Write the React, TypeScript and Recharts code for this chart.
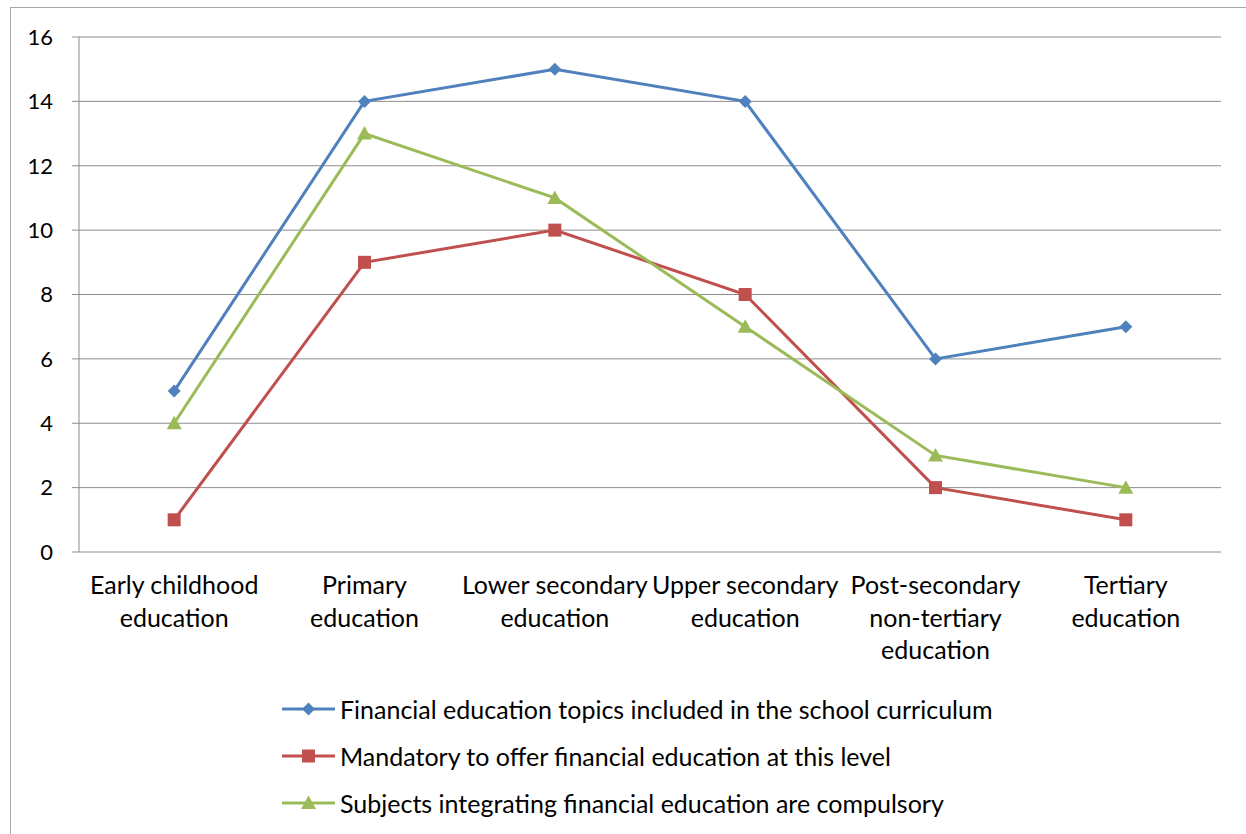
import React from "react";
import { LineChart, Line, XAxis, YAxis, CartesianGrid, Legend } from "recharts";

const categories = [
  "Early childhood education",
  "Primary education",
  "Lower secondary education",
  "Upper secondary education",
  "Post-secondary non-tertiary education",
  "Tertiary education",
];
const categoryLines = [
  ["Early childhood", "education"],
  ["Primary", "education"],
  ["Lower secondary", "education"],
  ["Upper secondary", "education"],
  ["Post-secondary", "non-tertiary", "education"],
  ["Tertiary", "education"],
];
const curriculum = [5, 14, 15, 14, 6, 7];
const mandatory = [1, 9, 10, 8, 2, 1];
const compulsory = [4, 13, 11, 7, 3, 2];
const yTicks = [0, 2, 4, 6, 8, 10, 12, 14, 16];
const boundaryTicks = [0, 1, 2, 3, 4, 5, 6];
const centerTicks = [0.5, 1.5, 2.5, 3.5, 4.5, 5.5];

const seriesNames = [
  "Financial education topics included in the school curriculum",
  "Mandatory to offer financial education at this level",
  "Subjects integrating financial education are compulsory",
];
const BLUE = "#4F81BD";
const RED = "#C0504D";
const GREEN = "#9BBB59";
const GRID = "#8c8c8c";
const FONT = "Lato, 'Open Sans', sans-serif";

const data = categories.map((c, i) => ({
  pos: i + 0.5,
  name: c,
  curriculum: curriculum[i],
  mandatory: mandatory[i],
  compulsory: compulsory[i],
}));

const Marker = ({ kind, cx, cy, color }: any) => {
  if (cx == null || cy == null) return null;
  if (kind === "diamond") {
    const r = 6.5;
    return <polygon points={`${cx},${cy - r} ${cx + r},${cy} ${cx},${cy + r} ${cx - r},${cy}`} fill={color} />;
  }
  if (kind === "square") {
    const r = 6.5;
    return <rect x={cx - r} y={cy - r} width={2 * r} height={2 * r} fill={color} />;
  }
  const r = 7.5;
  return <polygon points={`${cx},${cy - r} ${cx + r},${cy + r * 0.8} ${cx - r},${cy + r * 0.8}`} fill={color} />;
};

const makeDot = (kind: string, color: string) => (props: any) => (
  <Marker key={`${kind}-${props.index}`} kind={kind} cx={props.cx} cy={props.cy} color={color} />
);

const CategoryTick = (props: any) => {
  const { x, y, payload } = props;
  const idx = Math.floor(payload.value);
  const lines = categoryLines[idx] || [];
  return (
    <g>
      {lines.map((l, i) => (
        <text
          key={i}
          x={x}
          y={y + 42 + i * 32.5}
          textAnchor="middle"
          fontSize={25}
          fontFamily={FONT}
          fill="#000"
        >
          {l}
        </text>
      ))}
    </g>
  );
};

const legendItems = [
  { name: seriesNames[0], color: BLUE, kind: "diamond" },
  { name: seriesNames[1], color: RED, kind: "square" },
  { name: seriesNames[2], color: GREEN, kind: "triangle" },
];

const LegendContent = () => (
  <div style={{ fontFamily: FONT, fontSize: 25, color: "#000" }}>
    {legendItems.map((it) => (
      <div key={it.name} style={{ display: "flex", alignItems: "center", height: 47 }}>
        <svg width={58} height={20} style={{ flex: "none" }}>
          <line x1={0} y1={10} x2={53} y2={10} stroke={it.color} strokeWidth={3} />
          <Marker kind={it.kind} cx={26.5} cy={10} color={it.color} />
        </svg>
        <span style={{ whiteSpace: "nowrap" }}>{it.name}</span>
      </div>
    ))}
  </div>
);

export default function App() {
  return (
    <div style={{ position: "absolute", left: 0, top: 0, width: 1246, height: 834, overflow: "hidden", background: "#fff" }}>
      <div
        style={{
          position: "absolute",
          left: 10,
          top: 7,
          right: 0,
          bottom: 0,
          borderLeft: "1px solid #a6a6a6",
          borderTop: "1px solid #a6a6a6",
        }}
      />
      <div style={{ position: "absolute", left: 0, top: 0 }}>
        <LineChart width={1246} height={834} data={data} margin={{ top: 37, right: 25, left: 0, bottom: 0 }}>
          <CartesianGrid vertical={false} stroke={GRID} strokeWidth={1} />
          <XAxis
            xAxisId="b"
            type="number"
            dataKey="pos"
            domain={[0, 6]}
            ticks={boundaryTicks}
            tick={false}
            tickSize={7}
            height={0}
            stroke={GRID}
            axisLine={{ stroke: GRID }}
            tickLine={{ stroke: GRID }}
          />
          <XAxis
            xAxisId="c"
            type="number"
            dataKey="pos"
            domain={[0, 6]}
            ticks={centerTicks}
            tick={<CategoryTick />}
            tickSize={0}
            tickMargin={0}
            axisLine={false}
            tickLine={false}
            height={141}
            interval={0}
          />
          <YAxis
            domain={[0, 16]}
            ticks={yTicks}
            width={79}
            tickSize={7}
            tickMargin={19}
            axisLine={{ stroke: GRID }}
            tickLine={{ stroke: GRID }}
            tick={{ fill: "#000", fontSize: 22, fontFamily: FONT }}
            interval={0}
          />
          <Line
            xAxisId="c"
            dataKey="curriculum"
            name={seriesNames[0]}
            stroke={BLUE}
            strokeWidth={3}
            dot={makeDot("diamond", BLUE)}
            activeDot={false}
            isAnimationActive={false}
          />
          <Line
            xAxisId="c"
            dataKey="mandatory"
            name={seriesNames[1]}
            stroke={RED}
            strokeWidth={3}
            dot={makeDot("square", RED)}
            activeDot={false}
            isAnimationActive={false}
          />
          <Line
            xAxisId="c"
            dataKey="compulsory"
            name={seriesNames[2]}
            stroke={GREEN}
            strokeWidth={3}
            dot={makeDot("triangle", GREEN)}
            activeDot={false}
            isAnimationActive={false}
          />
          <Legend
            content={<LegendContent />}
            wrapperStyle={{ position: "absolute", left: 282, top: 685, width: 900 }}
          />
        </LineChart>
      </div>
    </div>
  );
}
